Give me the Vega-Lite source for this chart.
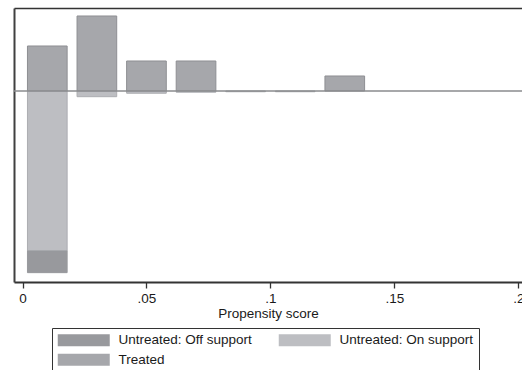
{
  "$schema": "https://vega.github.io/schema/vega-lite/v6.json",
  "autosize": {"type": "none"},
  "width": 508,
  "height": 274,
  "padding": {"left": 14, "top": 8, "right": 0, "bottom": 88},
  "background": "white",
  "config": {
    "view": {"stroke": null},
    "font": "Liberation Sans",
    "axis": {"grid": false, "labelFont": "Liberation Sans", "titleFont": "Liberation Sans"}
  },
  "layer": [
    {
      "data": {
        "values": [
          {"x0": 0.002, "x1": 0.018, "series": "Treated", "v": 3},
          {"x0": 0.022, "x1": 0.038, "series": "Treated", "v": 5},
          {"x0": 0.042, "x1": 0.058, "series": "Treated", "v": 2},
          {"x0": 0.062, "x1": 0.078, "series": "Treated", "v": 2},
          {"x0": 0.122, "x1": 0.138, "series": "Treated", "v": 1},
          {"x0": 0.002, "x1": 0.018, "series": "Untreated: On support", "v": -10.67},
          {"x0": 0.022, "x1": 0.038, "series": "Untreated: On support", "v": -0.38},
          {"x0": 0.042, "x1": 0.058, "series": "Untreated: On support", "v": -0.15},
          {"x0": 0.062, "x1": 0.078, "series": "Untreated: On support", "v": -0.08},
          {"x0": 0.082, "x1": 0.098, "series": "Untreated: On support", "v": -0.05},
          {"x0": 0.102, "x1": 0.118, "series": "Untreated: On support", "v": -0.05},
          {"x0": 0.002, "x1": 0.018, "series": "Untreated: Off support", "v": -1.44}
        ]
      },
      "transform": [
        {"stack": "v", "groupby": ["x0"], "sort": [{"field": "series", "order": "descending"}], "as": ["ya", "yb"]}
      ],
      "mark": {"type": "bar", "strokeWidth": 1},
      "encoding": {
        "x": {
          "field": "x0", "type": "quantitative",
          "scale": {"domain": [-0.00343, 0.20149], "nice": false, "zero": false},
          "axis": {
            "orient": "bottom",
            "values": [0, 0.05, 0.1, 0.15, 0.2],
            "labelExpr": "replace(format(datum.value, '.2~f'), '0.', '.')",
            "title": "Propensity score",
            "titleFontSize": 13.5, "titleFontWeight": "normal", "titleColor": "#1a1a1a", "titlePadding": 2,
            "labelFontSize": 13.5, "labelColor": "#1a1a1a", "labelPadding": 3,
            "labelOverlap": false, "labelFlush": false,
            "domainColor": "#333333", "domainWidth": 2,
            "tickColor": "#333333", "tickWidth": 1.3, "tickSize": 6
          }
        },
        "x2": {"field": "x1"},
        "y": {
          "field": "ya", "type": "quantitative",
          "scale": {"domain": [-12.733, 5.533], "nice": false, "zero": false},
          "axis": {"orient": "left", "title": null, "labels": false, "ticks": false, "domainColor": "#404040", "domainWidth": 2}
        },
        "y2": {"field": "yb"},
        "fill": {
          "field": "series", "type": "nominal",
          "scale": {"domain": ["Untreated: Off support", "Untreated: On support", "Treated"], "range": ["#98999d", "#bdbec2", "#a6a7ab"]},
          "legend": {
            "title": null,
            "orient": "none", "legendX": 38, "legendY": 320,
            "direction": "horizontal", "columns": 2,
            "symbolType": "M-1,-1H7.6667V1H-1Z", "symbolSize": 144, "symbolStrokeWidth": 0,
            "labelFont": "Liberation Sans", "labelFontSize": 13.5, "labelColor": "#1a1a1a",
            "labelOffset": 48, "columnPadding": 26, "rowPadding": 5,
            "padding": 5, "strokeColor": "#333333", "fillColor": "white", "labelLimit": 300
          }
        },
        "stroke": {
          "field": "series", "type": "nominal",
          "scale": {"domain": ["Untreated: Off support", "Untreated: On support", "Treated"], "range": ["#98999d", "#acadb1", "#8e8f93"]},
          "legend": null
        }
      }
    },
    {
      "data": {"values": [{"z": 0}]},
      "mark": {"type": "rule", "color": "#8a8b8e", "strokeWidth": 1.5},
      "encoding": {"y": {"field": "z", "type": "quantitative"}}
    },
    {
      "data": {"values": [{"t": 0}]},
      "mark": {"type": "rule", "opacity": 0},
      "encoding": {
        "x": {"field": "t", "type": "quantitative", "axis": {"orient": "top", "title": null, "labels": false, "ticks": false, "domainColor": "#333333", "domainWidth": 1.3}}
      }
    }
  ]
}
